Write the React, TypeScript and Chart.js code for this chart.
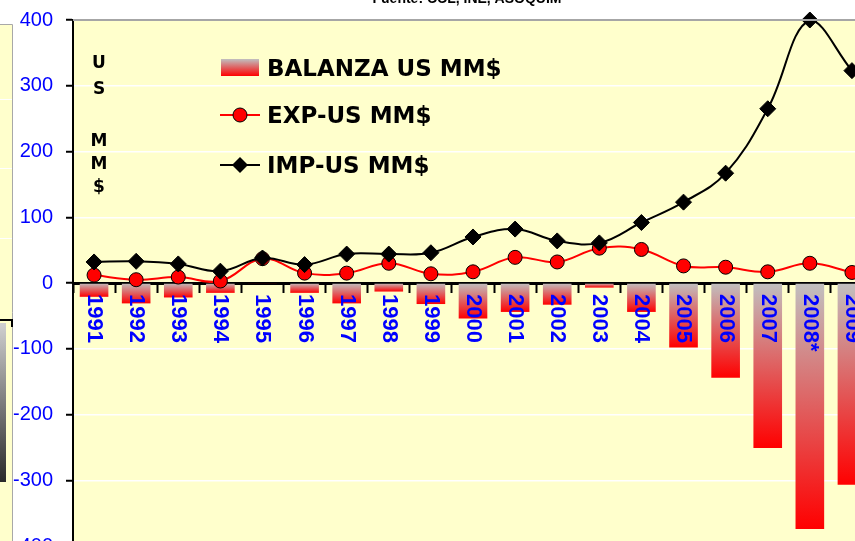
import React, { useEffect, useRef } from "react";
import { Chart, registerables } from "chart.js";

Chart.register(...registerables);

// ---- data ----
const years = ["1991", "1992", "1993", "1994", "1995", "1996", "1997", "1998", "1999", "2000", "2001", "2002", "2003", "2004", "2005", "2006", "2007", "2008*", "2009"];
const balanza = [-21, -31, -22, -15, -1, -15, -31, -13, -32, -54, -44, -33, -7, -44, -98, -144, -251, -374, -307];
const exportsUS = [12, 5, 9, 3, 37, 15, 15, 30, 14, 17, 39, 32, 53, 51, 26, 24, 17, 30, 16];
const importsUS = [32, 33, 29, 18, 38, 28, 44, 44, 46, 70, 82, 64, 61, 92, 123, 167, 265, 400, 323];
const yMin = -400;
const yMax = 400;
const yStep = 100;
const seriesLabels = ["BALANZA US MM$", "EXP-US MM$", "IMP-US MM$"];
const axisTitleLetters = ["U", "S", "", "M", "M", "$"];
const sourceText = "Fuente: CCL, INE, ASOQUIM";

const PLOT_BG = "#FFFFCC";
const BLUE = "#0000FF";
const GRAY_TOP = "#C0C0C0";
const RED = "#FF0000";

function barGradient(ctx: CanvasRenderingContext2D, y0: number, y1: number) {
  const g = ctx.createLinearGradient(0, y0, 0, y1);
  g.addColorStop(0, GRAY_TOP);
  g.addColorStop(1, RED);
  return g;
}

const decorPlugin = {
  id: "decor",
  beforeDraw(chart: any) {
    const { ctx, chartArea } = chart;
    ctx.save();
    // plot background
    ctx.fillStyle = PLOT_BG;
    ctx.fillRect(chartArea.left, chartArea.top, chartArea.right - chartArea.left, chartArea.bottom - chartArea.top);
    // neighbouring panel strip at far left
    ctx.fillStyle = PLOT_BG;
    ctx.fillRect(0, 24, 12, chart.height - 24);
    ctx.strokeStyle = "#FFFFFF";
    ctx.lineWidth = 1;
    [99, 168, 238].forEach((yy) => {
      ctx.beginPath();
      ctx.moveTo(0, yy + 0.5);
      ctx.lineTo(12, yy + 0.5);
      ctx.stroke();
    });
    ctx.strokeStyle = "#A8A8A8";
    ctx.lineWidth = 1;
    ctx.beginPath();
    ctx.moveTo(0, 24.5);
    ctx.lineTo(12.5, 24.5);
    ctx.lineTo(12.5, chart.height);
    ctx.stroke();
    const g = ctx.createLinearGradient(0, 323, 0, 482);
    g.addColorStop(0, "#D0D0D0");
    g.addColorStop(1, "#2A2A2A");
    ctx.fillStyle = g;
    ctx.fillRect(0, 323, 6, 159);
    ctx.strokeStyle = "#000";
    ctx.lineWidth = 2;
    ctx.beginPath();
    ctx.moveTo(0, 320);
    ctx.lineTo(12, 320);
    ctx.lineTo(12, 327);
    ctx.stroke();
    ctx.restore();
  },
  afterDatasetsDraw(chart: any) {
    const { ctx, chartArea, scales } = chart;
    const xs = scales.x;
    const y0 = scales.y.getPixelForValue(0);
    ctx.save();
    // category labels, rotated reading top-to-bottom
    ctx.fillStyle = BLUE;
    ctx.font = 'bold 22px "Liberation Sans", Arial, sans-serif';
    ctx.textAlign = "left";
    ctx.textBaseline = "middle";
    years.forEach((lab, i) => {
      const x = xs.getPixelForValue(i);
      ctx.save();
      ctx.translate(x, y0 + 11);
      ctx.rotate(Math.PI / 2);
      ctx.fillText(lab, 0, 0);
      ctx.restore();
    });

    // legend
    const lx = 221;
    const tx = 267;
    const rows = [68, 115, 165];
    ctx.font = 'bold 23px "DejaVu Sans", Verdana, sans-serif';
    ctx.textAlign = "left";
    ctx.textBaseline = "alphabetic";
    // balanza swatch
    ctx.fillStyle = barGradient(ctx, 59, 76);
    ctx.fillRect(lx, 59, 38, 17);
    ctx.fillStyle = "#000";
    ctx.fillText(seriesLabels[0], tx, rows[0] + 8);
    // exp
    ctx.strokeStyle = RED;
    ctx.lineWidth = 2;
    ctx.beginPath();
    ctx.moveTo(lx - 1, rows[1]);
    ctx.lineTo(lx + 39, rows[1]);
    ctx.stroke();
    ctx.beginPath();
    ctx.arc(lx + 19, rows[1], 7, 0, Math.PI * 2);
    ctx.fillStyle = RED;
    ctx.fill();
    ctx.lineWidth = 1;
    ctx.strokeStyle = "#000";
    ctx.stroke();
    ctx.fillStyle = "#000";
    ctx.fillText(seriesLabels[1], tx, rows[1] + 8);
    // imp
    ctx.strokeStyle = "#000";
    ctx.lineWidth = 2;
    ctx.beginPath();
    ctx.moveTo(lx - 1, rows[2]);
    ctx.lineTo(lx + 39, rows[2]);
    ctx.stroke();
    ctx.beginPath();
    ctx.moveTo(lx + 19, rows[2] - 8);
    ctx.lineTo(lx + 27, rows[2]);
    ctx.lineTo(lx + 19, rows[2] + 8);
    ctx.lineTo(lx + 11, rows[2]);
    ctx.closePath();
    ctx.fillStyle = "#000";
    ctx.fill();
    ctx.fillText(seriesLabels[2], tx, rows[2] + 8);

    // vertical stacked axis title
    ctx.font = 'bold 17px "DejaVu Sans", Verdana, sans-serif';
    ctx.textAlign = "center";
    const baselines = [68, 94, 120, 146, 169, 192];
    axisTitleLetters.forEach((ch, i) => {
      if (ch) ctx.fillText(ch, 99, baselines[i]);
    });

    // source text at the very top (mostly cut off)
    ctx.font = 'bold 14px "Liberation Sans", Arial, sans-serif';
    ctx.textAlign = "center";
    ctx.fillText(sourceText, 467, 3);

    // plot area top border
    ctx.strokeStyle = "#A6A6A6";
    ctx.lineWidth = 2;
    ctx.beginPath();
    ctx.moveTo(chartArea.left, chartArea.top);
    ctx.lineTo(chart.width, chartArea.top);
    ctx.stroke();
    ctx.restore();
  },
};

function zeroPadding(s: any) {
  s.paddingTop = 0;
  s.paddingBottom = 0;
  s.paddingLeft = 0;
  s.paddingRight = 0;
}

export default function App() {
  const ref = useRef<HTMLCanvasElement | null>(null);

  useEffect(() => {
    if (!ref.current) return;
    const chart = new Chart(ref.current, {
      type: "bar",
      data: {
        labels: years,
        datasets: [
          {
            type: "bar",
            label: seriesLabels[0],
            data: balanza,
            order: 3,
            barPercentage: 0.68,
            categoryPercentage: 1,
            backgroundColor: (c: any) => {
              const chart = c.chart;
              if (!chart.chartArea || c.type !== "data") return GRAY_TOP;
              const y0 = chart.scales.y.getPixelForValue(0);
              const y1 = chart.scales.y.getPixelForValue(c.raw);
              if (Math.abs(y1 - y0) < 1) return RED;
              return barGradient(chart.ctx, y0, y1);
            },
            borderWidth: 0,
          } as any,
          {
            type: "line",
            label: seriesLabels[1],
            data: exportsUS,
            order: 2,
            borderColor: RED,
            borderWidth: 2,
            tension: 0.4,
            pointStyle: "circle",
            pointRadius: 7,
            pointBackgroundColor: RED,
            pointBorderColor: "#000",
            pointBorderWidth: 1,
            clip: false,
          } as any,
          {
            type: "line",
            label: seriesLabels[2],
            data: importsUS,
            order: 1,
            borderColor: "#000",
            borderWidth: 2,
            tension: 0.4,
            pointStyle: "rectRot",
            pointRadius: 8,
            pointBackgroundColor: "#000",
            pointBorderColor: "#000",
            pointBorderWidth: 1,
            clip: false,
          } as any,
        ],
      },
      options: {
        responsive: false,
        maintainAspectRatio: false,
        devicePixelRatio: 1,
        animation: false,
        layout: { padding: { left: 0, top: 20, right: 27, bottom: 54 } },
        plugins: {
          legend: { display: false },
          tooltip: { enabled: false },
        },
        scales: {
          x: {
            type: "category",
            position: { y: 0 } as any,
            offset: true,
            grid: {
              offset: true,
              drawOnChartArea: false,
              drawTicks: true,
              tickLength: 8,
              tickColor: "#000",
              tickWidth: 2,
            },
            border: { color: "#000", width: 3 },
            ticks: { display: false },
            afterFit: zeroPadding,
          },
          y: {
            min: yMin,
            max: yMax,
            ticks: {
              stepSize: yStep,
              color: BLUE,
              padding: 13,
              font: { family: '"Liberation Sans", Arial, sans-serif', size: 20 },
            },
            grid: {
              color: "#FFFFFF",
              lineWidth: 1.5,
              tickColor: "#000",
              tickWidth: 2,
              tickLength: 7,
            },
            border: { color: "#000", width: 2 },
            afterFit: (s: any) => {
              s.width = 73;
              zeroPadding(s);
            },
          },
        },
      },
      plugins: [decorPlugin],
    });
    return () => chart.destroy();
  }, []);

  return (
    <div
      style={{
        position: "fixed",
        left: 0,
        top: 0,
        width: 855,
        height: 541,
        overflow: "hidden",
        background: "#FFFFFF",
      }}
    >
      <canvas ref={ref} width={900} height={600} style={{ display: "block" }} />
    </div>
  );
}
